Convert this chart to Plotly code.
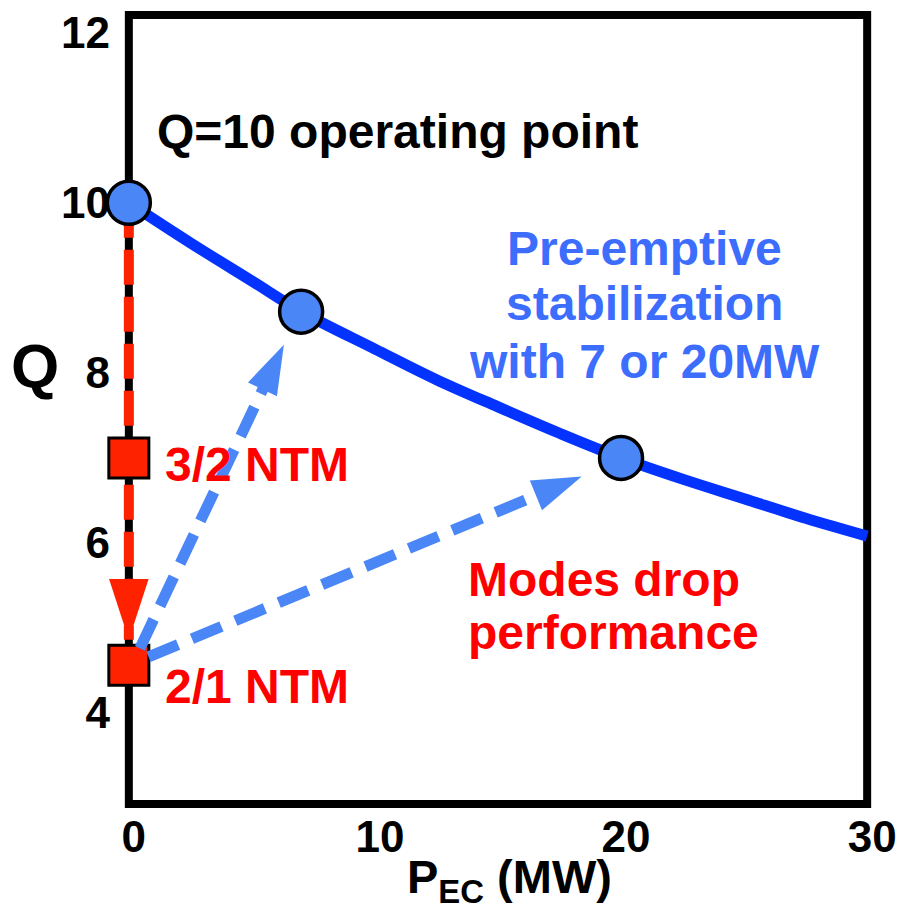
import plotly.graph_objects as go

# EC power (MW) vs fusion gain Q along the stabilised operating curve
curve_pec = [0, 2.5, 5, 7, 10, 12.5, 15, 17.5, 20, 22.5, 25, 27.5, 30]
curve_q = [10, 9.53, 9.08, 8.72, 8.28, 7.92, 7.6, 7.29, 7.0, 6.75, 6.52, 6.29, 6.08]

# operating points (circles)
point_pec = [0, 7, 20]
point_q = [10, 8.72, 7.0]

# NTM points (squares)
ntm_pec = [0, 0]
ntm_q = [7.0, 4.56]
ntm_labels = ["3/2 NTM", "2/1 NTM"]
ntm_label_q = [6.92, 4.31]

# red drop arrow
drop_pec = [0, 0]
drop_q = [10, 4.86]

# blue recovery arrows: start and tip
arrow_start_pec = [0.45, 0.8]
arrow_start_q = [4.76, 4.66]
arrow_tip_pec = [6.3, 18.4]
arrow_tip_q = [8.33, 6.78]

blue_lines = ["Pre-emptive", "stabilization", "with 7 or 20MW"]
blue_lines_q = [9.46, 8.81, 8.13]
red_lines = ["Modes drop", "performance"]
red_lines_q = [5.57, 4.95]

x_ticks = [0, 10, 20, 30]
y_ticks = [4, 6, 8, 10, 12]
x_frame = [0, 30]
y_frame = [2.93, 12.21]

FONT = "Liberation Sans, Arial, sans-serif"
BLUE_LINE = "#0433ff"
BLUE_PT = "#4a86f6"
BLUE_TXT = "#3d6dfd"
RED_PT = "#ff2200"
RED_TXT = "#ff0000"

# pixel scale used to pull the arrow shafts back from the heads
PX_X = 24.82
PX_Y = 85.0

fig = go.Figure()

fig.add_trace(go.Scatter(x=curve_pec, y=curve_q, mode="lines", line=dict(color=BLUE_LINE, width=11, shape="spline"),
                         cliponaxis=False, hoverinfo="skip"))

fig.add_trace(go.Scatter(x=drop_pec, y=drop_q, mode="lines+markers",
                         line=dict(color=RED_PT, width=10, dash="35px,12px"),
                         marker=dict(symbol="arrow", angleref="previous", size=[0, 64], color=RED_PT,
                                     opacity=1, line=dict(width=0)),
                         cliponaxis=False, hoverinfo="skip"))

fig.add_trace(go.Scatter(x=ntm_pec, y=ntm_q, mode="markers",
                         marker=dict(symbol="square", size=40, color=RED_PT, line=dict(color="black", width=3)),
                         cliponaxis=False, hoverinfo="skip"))

for sx, sy, tx, ty in zip(arrow_start_pec, arrow_start_q, arrow_tip_pec, arrow_tip_q):
    dx = (tx - sx) * PX_X
    dy = (ty - sy) * PX_Y
    length = (dx ** 2 + dy ** 2) ** 0.5
    back = 30 / length
    ex = tx - (tx - sx) * back
    ey = ty - (ty - sy) * back
    fig.add_trace(go.Scatter(x=[sx, ex], y=[sy, ey], mode="lines",
                             line=dict(color=BLUE_PT, width=11, dash="32px,15px"),
                             cliponaxis=False, hoverinfo="skip"))
    fig.add_trace(go.Scatter(x=[sx, tx], y=[sy, ty], mode="markers",
                             marker=dict(symbol="arrow", angleref="previous", size=[0, 52], color=BLUE_PT,
                                         opacity=1, line=dict(width=0)),
                             cliponaxis=False, hoverinfo="skip"))

fig.add_trace(go.Scatter(x=point_pec, y=point_q, mode="markers",
                         marker=dict(symbol="circle", size=43, color=BLUE_PT, line=dict(color="black", width=3.5)),
                         cliponaxis=False, hoverinfo="skip"))

# frame
fig.add_shape(type="rect", xref="x", yref="y", x0=x_frame[0], x1=x_frame[1], y0=y_frame[0], y1=y_frame[1],
              line=dict(color="black", width=8), layer="below")

bold = dict(family=FONT, weight="bold")

fig.add_annotation(x=1.07, y=10.84, xref="x", yref="y", text="Q=10 operating point", showarrow=False,
                   xanchor="left", yanchor="middle", font=dict(size=48, color="black", **bold))
for line, qy in zip(blue_lines, blue_lines_q):
    fig.add_annotation(x=20.95, y=qy, xref="x", yref="y", text=line, showarrow=False,
                       xanchor="center", yanchor="middle", font=dict(size=48, color=BLUE_TXT, **bold))
for line, qy in zip(red_lines, red_lines_q):
    fig.add_annotation(x=13.69, y=qy, xref="x", yref="y", text=line, showarrow=False,
                       xanchor="left", yanchor="middle", font=dict(size=48, color=RED_TXT, **bold))
for lab, qy in zip(ntm_labels, ntm_label_q):
    fig.add_annotation(x=1.37, y=qy, xref="x", yref="y", text=lab, showarrow=False,
                       xanchor="left", yanchor="middle", font=dict(size=48, color=RED_TXT, **bold))

# axis titles
fig.add_annotation(x=-0.1107, y=0.553, xref="paper", yref="paper", text="Q", showarrow=False,
                   xanchor="center", yanchor="middle", font=dict(size=62, color="black", **bold))
fig.add_annotation(x=0.5147, y=-0.08, xref="paper", yref="paper", text="P<sub>EC</sub> (MW)", showarrow=False,
                   xanchor="center", yanchor="middle", font=dict(size=47, color="black", **bold))

fig.update_layout(
    width=900, height=916,
    margin=dict(l=118.6, r=12, t=3.1, b=101),
    plot_bgcolor="white", paper_bgcolor="white",
    showlegend=False,
    xaxis=dict(range=[-0.4, 30.4], tickvals=x_ticks, showgrid=False, zeroline=False, showline=False,
               ticks="", tickfont=dict(size=44, color="black", **bold), ticklabelstandoff=-8,
               ticklabelshift=5, ticklabeloverflow="allow"),
    yaxis=dict(range=[2.8, 12.35], tickvals=y_ticks, showgrid=False, zeroline=False, showline=False,
               ticks="", tickfont=dict(size=44, color="black", **bold), ticklabelstandoff=8),
)

fig.write_html("out.html", config={"displayModeBar": False},
               post_script="document.body.style.margin='0';")
